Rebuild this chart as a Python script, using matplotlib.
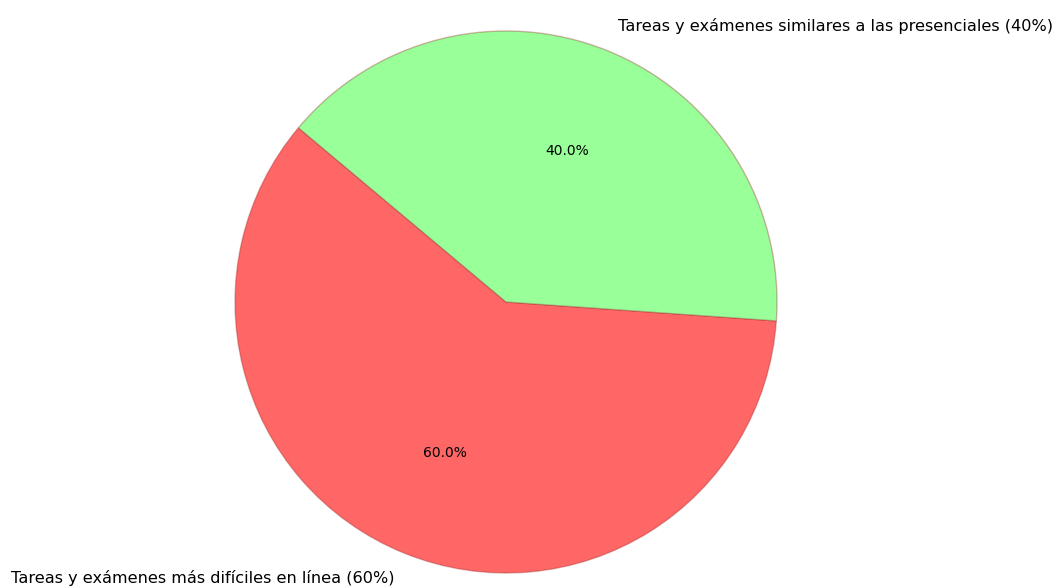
import matplotlib
matplotlib.use("Agg")
import matplotlib.pyplot as plt

labels = ["Tareas y exámenes más difíciles en línea (60%)",
          "Tareas y exámenes similares a las presenciales (40%)"]
sizes = [60, 40]
colors = ["#ff6666", "#99ff99"]

W, H = 1053, 588
fig = plt.figure(figsize=(W / 100, H / 100), dpi=100)
cx, cy, r = 506, 302, 271
side = 2 * r
ax = fig.add_axes([(cx - r) / W, (H - cy - r) / H, side / W, side / H])

wedges, texts, autotexts = ax.pie(
    sizes, labels=labels, colors=colors, startangle=140,
    autopct="%1.1f%%", radius=1.0,
    wedgeprops=dict(edgecolor=(0.6, 0.15, 0.15, 0.35), linewidth=1.0),
    textprops=dict(fontsize=11.6),
)
for t in autotexts:
    t.set_fontsize(10)
ax.set_xlim(-1, 1)
ax.set_ylim(-1, 1)
ax.set_aspect("equal")

fig.savefig("out.png", dpi=100)
